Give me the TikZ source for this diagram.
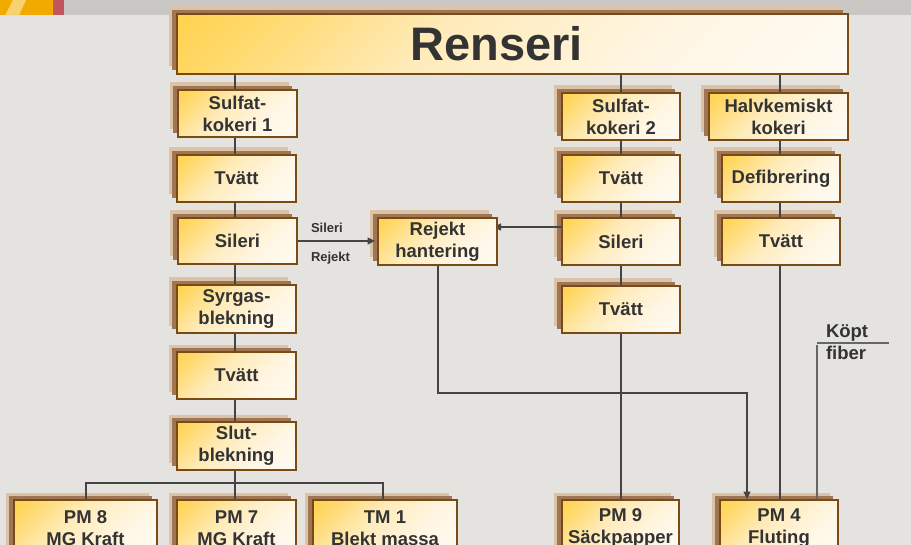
\documentclass[tikz,border=0pt]{standalone}
\usepackage{fontspec}
\setmainfont{Liberation Sans}
\usetikzlibrary{arrows.meta}
\definecolor{bgc}{HTML}{E4E3E0}
\definecolor{bandc}{HTML}{C9C7C3}
\definecolor{orangec}{HTML}{F0AA00}
\definecolor{orangelt}{HTML}{F8D26E}
\definecolor{redc}{HTML}{C2555E}
\definecolor{shlight}{HTML}{DCC3A8}
\definecolor{shdark}{HTML}{9E7654}
\definecolor{boxbrown}{HTML}{7A4A14}
\definecolor{goldc}{HTML}{FFC61C}
\definecolor{gold2c}{HTML}{FFD867}
\definecolor{midc}{HTML}{FFEBBA}
\definecolor{lightc}{HTML}{FFF6E4}
\definecolor{creamc}{HTML}{FFFFFF}
\definecolor{txtc}{HTML}{333333}
\definecolor{linec}{HTML}{444444}
\definecolor{linelt}{HTML}{666666}
\pgfdeclareverticalshading{boxshade}{100bp}{color(0bp)=(creamc); color(35bp)=(lightc); color(58bp)=(midc); color(78bp)=(gold2c); color(100bp)=(goldc)}
\pgfdeclarelayer{back}
\pgfdeclarelayer{shadowlayer}
\pgfdeclarelayer{edges}
\pgfsetlayers{back,shadowlayer,edges,main}
\newcommand\boxfont{\fontsize{18.5bp}{22bp}\selectfont\bfseries}
\newcommand\bigfont{\fontsize{47bp}{50bp}\selectfont\bfseries}
\newcommand\smallfont{\fontsize{13bp}{15bp}\selectfont\bfseries}
\tikzset{
  pbox/.style={draw=boxbrown, line width=1.5bp, shade, shading=boxshade, shading angle=45,
    inner sep=2bp, outer sep=0pt, text=txtc, font=\boxfont, align=center},
  conn/.style={draw=linec, line width=1.3bp},
  connlt/.style={draw=linelt, line width=1.6bp},
  arr/.style={conn, -{Triangle[length=7.5bp,width=7bp]}},
  lbl/.style={text=txtc, inner sep=0pt, outer sep=0pt},
}
\newcommand\procbox[6]{%
  \begin{pgfonlayer}{shadowlayer}
  \fill[shlight] ({#2-8},{#3-7.5}) rectangle ({#4-8},{#5-7.5});
  \fill[shdark] ({#2-5},{#3-4}) rectangle ({#4-5},{#5-4});
  \end{pgfonlayer}
  \node[pbox, minimum width={(#4-#2)*1bp}, minimum height={(#5-#3)*1bp}] (#1) at ({(#2+#4)/2},{(#3+#5)/2}) {#6};
}
\begin{document}
\begin{tikzpicture}[x=1bp,y=-1bp]
\useasboundingbox (0,0) rectangle (911,545);
\clip (0,0) rectangle (911,545);
\begin{pgfonlayer}{back}
\fill[bgc] (0,0) rectangle (911,545);
\fill[bandc] (0,0) rectangle (911,15.5);
\fill[orangec] (0,0) rectangle (53,15.5);
\fill[orangelt] (5,15.5) -- (13,0) -- (26,0) -- (19,15.5) -- cycle;
\fill[redc] (53,0) rectangle (64,15.5);
\end{pgfonlayer}

\procbox{ren}{177}{14}{848}{74}{{\bigfont Renseri}\hspace*{32bp}}
\procbox{sk1}{178}{90}{297}{137}{Sulfat-\\kokeri 1}
\procbox{tv1}{177}{155}{296}{202}{Tvätt}
\procbox{sil1}{178}{218}{297}{264}{Sileri}
\procbox{syr}{177}{285}{296}{333}{Syrgas-\\blekning}
\procbox{tv1b}{177}{352}{296}{399}{Tvätt}
\procbox{slut}{177}{422}{296}{470}{Slut-\\blekning}
\procbox{pm8}{14}{500}{157}{556}{PM 8\\MG Kraft}
\procbox{pm7}{177}{500}{296}{556}{PM 7\\MG Kraft}
\procbox{tm1}{313}{500}{457}{556}{TM 1\\Blekt massa}
\procbox{rej}{378}{218}{497}{265}{Rejekt\\hantering}
\procbox{sk2}{562}{93}{680}{140}{Sulfat-\\kokeri 2}
\procbox{tv2}{562}{155}{680}{202}{Tvätt}
\procbox{sil2}{562}{218}{680}{265}{Sileri}
\procbox{tv2b}{562}{286}{680}{333}{Tvätt}
\procbox{pm9}{562}{500}{679}{556}{PM 9\\Säckpapper}
\procbox{hk}{709}{93}{848}{140}{Halvkemiskt\\kokeri}
\procbox{def}{722}{155}{840}{202}{Defibrering}
\procbox{tv3}{722}{218}{840}{265}{Tvätt}
\procbox{pm4}{720}{500}{838}{556}{PM 4\\Fluting}

\node[lbl, font=\smallfont, anchor=base west] (lsil) at (311,233) {Sileri};
\node[lbl, font=\smallfont, anchor=base west] (lrej) at (311,262) {Rejekt};
\node[lbl, font=\boxfont, anchor=north west, align=left] (kopt) at (826,324.5) {Köpt\\fiber};

\begin{pgfonlayer}{edges}
% column 1
\draw[conn] (ren.south -| 235,0) -- (sk1.north -| 235,0);
\draw[conn] (sk1.south -| 235,0) -- (tv1.north -| 235,0);
\draw[conn] (tv1.south -| 235,0) -- (sil1.north -| 235,0);
\draw[conn] (sil1.south -| 235,0) -- (syr.north -| 235,0);
\draw[conn] (syr.south -| 235,0) -- (tv1b.north -| 235,0);
\draw[conn] (tv1b.south -| 235,0) -- (slut.north -| 235,0);
\draw[conn] (slut.south -| 235,0) -- (pm7.north -| 235,0);
\draw[conn] (pm8.north -| 86,0) -- (86,483) -- (383,483) -- (tm1.north -| 383,0);
% column 2
\draw[conn] (ren.south -| 621,0) -- (sk2.north -| 621,0);
\draw[conn] (sk2.south -| 621,0) -- (tv2.north -| 621,0);
\draw[conn] (tv2.south -| 621,0) -- (sil2.north -| 621,0);
\draw[conn] (sil2.south -| 621,0) -- (tv2b.north -| 621,0);
\draw[conn] (tv2b.south -| 621,0) -- (pm9.north -| 621,0);
% column 3
\draw[conn] (ren.south -| 780,0) -- (hk.north -| 780,0);
\draw[conn] (hk.south -| 780,0) -- (def.north -| 780,0);
\draw[conn] (def.south -| 780,0) -- (tv3.north -| 780,0);
\draw[conn] (tv3.south -| 780,0) -- (pm4.north -| 780,0);
% reject handling
\draw[arr, shorten >=3bp] (sil1.east |- 0,241) -- (rej.west |- 0,241);
\draw[arr, shorten >=-3.5bp] (sil2.west |- 0,227) -- (rej.east |- 0,227);
\draw[arr, shorten >=1bp] (rej.south -| 438,0) -- (438,393) -- (747,393) -- (pm4.north -| 747,0);
% purchased fiber
\draw[connlt] (pm4.north -| 817,0) -- (817,345) coordinate (kf);
\draw[connlt] (kf) ++(0,-2) -- (889,343);
\end{pgfonlayer}
\end{tikzpicture}
\end{document}
